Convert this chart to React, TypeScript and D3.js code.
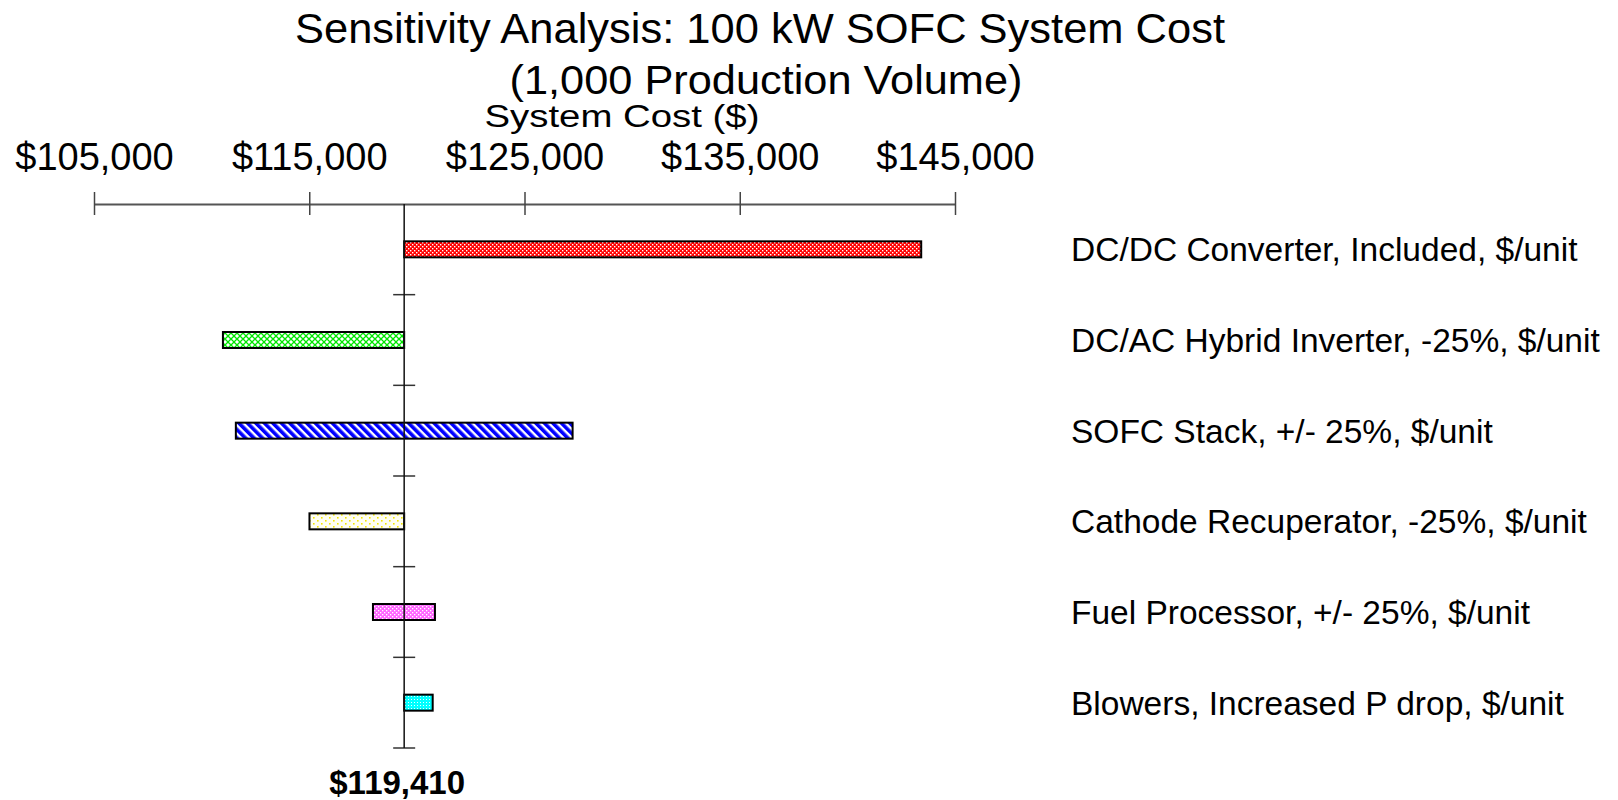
import React, { useRef, useEffect } from 'react';
import * as d3 from 'd3';

// Sensitivity data (system cost, $)
const baseCost = 119410;
const categories = [
  'DC/DC Converter, Included, $/unit',
  'DC/AC Hybrid Inverter, -25%, $/unit',
  'SOFC Stack, +/- 25%, $/unit',
  'Cathode Recuperator, -25%, $/unit',
  'Fuel Processor, +/- 25%, $/unit',
  'Blowers, Increased P drop, $/unit',
];
const lowValues = [119410, 110990, 111590, 115010, 117960, 119410];
const highValues = [143430, 119410, 127235, 119410, 120840, 120735];
const patternIds = ['pRed', 'pGreen', 'pBlue', 'pYellow', 'pMagenta', 'pCyan'];
const tickValues = [105000, 115000, 125000, 135000, 145000];

const FONT = "'Liberation Sans', Arial, Helvetica, sans-serif";

export default function App() {
  const svgRef = useRef<SVGSVGElement>(null);

  useEffect(() => {
    if (!svgRef.current) return;
    const root = d3.select(svgRef.current);
    root.selectAll('*').remove();

    const width = 1618;
    const height = 800;
    root.attr('width', width).attr('height', height);

    // Fill patterns
    const defs = root.append('defs');
    const red = defs.append('pattern').attr('id', 'pRed').attr('patternUnits', 'userSpaceOnUse')
      .attr('width', 4).attr('height', 4);
    red.append('rect').attr('width', 4).attr('height', 4).attr('fill', '#ff0000');
    red.append('rect').attr('x', 0).attr('y', 0).attr('width', 1.4).attr('height', 1.4).attr('fill', '#fff');
    red.append('rect').attr('x', 2).attr('y', 2).attr('width', 1.4).attr('height', 1.4).attr('fill', '#fff');

    const green = defs.append('pattern').attr('id', 'pGreen').attr('patternUnits', 'userSpaceOnUse')
      .attr('width', 6).attr('height', 6);
    green.append('rect').attr('width', 6).attr('height', 6).attr('fill', '#fff');
    green.append('path').attr('d', 'M0,0 L6,6 M6,0 L0,6').attr('stroke', '#00e600').attr('stroke-width', 1.3);

    const blue = defs.append('pattern').attr('id', 'pBlue').attr('patternUnits', 'userSpaceOnUse')
      .attr('width', 6).attr('height', 6).attr('patternTransform', 'rotate(-45)');
    blue.append('rect').attr('width', 6).attr('height', 6).attr('fill', '#fff');
    blue.append('rect').attr('width', 3.6).attr('height', 6).attr('fill', '#0000ff');

    const yellow = defs.append('pattern').attr('id', 'pYellow').attr('patternUnits', 'userSpaceOnUse')
      .attr('width', 8).attr('height', 6);
    yellow.append('rect').attr('width', 8).attr('height', 6).attr('fill', '#fffff2');
    yellow.append('rect').attr('x', 1).attr('y', 1).attr('width', 1.6).attr('height', 1.6).attr('fill', '#f2e600');
    yellow.append('rect').attr('x', 5).attr('y', 4).attr('width', 1.6).attr('height', 1.6).attr('fill', '#f2e600');

    const magenta = defs.append('pattern').attr('id', 'pMagenta').attr('patternUnits', 'userSpaceOnUse')
      .attr('width', 4).attr('height', 4);
    magenta.append('rect').attr('width', 4).attr('height', 4).attr('fill', '#ff66ff');
    magenta.append('rect').attr('x', 0).attr('y', 0).attr('width', 1.3).attr('height', 1.3).attr('fill', '#fff');
    magenta.append('rect').attr('x', 2).attr('y', 2).attr('width', 1.3).attr('height', 1.3).attr('fill', '#fff');

    const cyan = defs.append('pattern').attr('id', 'pCyan').attr('patternUnits', 'userSpaceOnUse')
      .attr('width', 3).attr('height', 3);
    cyan.append('rect').attr('width', 3).attr('height', 3).attr('fill', '#00ffff');
    cyan.append('rect').attr('x', 0).attr('y', 0).attr('width', 1).attr('height', 1).attr('fill', '#e6ffff');

    const x = d3.scaleLinear().domain([105000, 145000]).range([94, 955]);
    const y = d3.scaleBand().domain(categories).range([204, 748]).paddingInner(0).paddingOuter(0);
    const barH = 16;

    // Titles
    root.append('text')
      .attr('x', 760).attr('y', 43)
      .attr('text-anchor', 'middle')
      .attr('textLength', 930).attr('lengthAdjust', 'spacingAndGlyphs')
      .style('font-family', FONT).style('font-size', '42px').style('fill', '#000')
      .text('Sensitivity Analysis: 100 kW SOFC System Cost');
    root.append('text')
      .attr('x', 766).attr('y', 94)
      .attr('text-anchor', 'middle')
      .attr('textLength', 513).attr('lengthAdjust', 'spacingAndGlyphs')
      .style('font-family', FONT).style('font-size', '41px').style('fill', '#000')
      .text('(1,000 Production Volume)');
    root.append('text')
      .attr('x', 622).attr('y', 127)
      .attr('text-anchor', 'middle')
      .attr('textLength', 275).attr('lengthAdjust', 'spacingAndGlyphs')
      .style('font-family', FONT).style('font-size', '31px').style('fill', '#000')
      .text('System Cost ($)');

    // Top value axis
    const axisY = y.range()[0];
    root.append('g')
      .attr('transform', `translate(0,${axisY})`)
      .call(d3.axisTop(x).tickValues(tickValues).tickSizeOuter(0).tickSizeInner(12)
        .tickFormat(d => d3.format('$,.0f')(d as number)))
      .call(g => g.select('.domain').attr('stroke', '#555').attr('stroke-width', 2))
      .call(g => g.selectAll('.tick line').attr('y1', 11).attr('y2', -12)
        .attr('stroke', '#444').attr('stroke-width', 1.5))
      .call(g => g.selectAll('.tick text')
        .attr('y', -34).attr('dy', 0)
        .style('font-family', FONT).style('font-size', '38px').style('fill', '#000'));

    // Base line with category ticks
    const bx = x(baseCost);
    root.selectAll('.cat-tick')
      .data(categories)
      .enter()
      .append('line')
      .attr('class', 'cat-tick')
      .attr('x1', bx - 11).attr('x2', bx + 11)
      .attr('y1', d => (y(d) || 0) + y.step())
      .attr('y2', d => (y(d) || 0) + y.step())
      .attr('stroke', '#333').attr('stroke-width', 1.5);

    // Bars
    root.selectAll('.bar')
      .data(categories)
      .enter()
      .append('rect')
      .attr('class', 'bar')
      .attr('x', (_d, i) => x(lowValues[i]))
      .attr('width', (_d, i) => x(highValues[i]) - x(lowValues[i]))
      .attr('y', d => (y(d) || 0) + y.bandwidth() / 2 - barH / 2)
      .attr('height', barH)
      .attr('fill', (_d, i) => `url(#${patternIds[i]})`)
      .attr('stroke', '#000')
      .attr('stroke-width', 2);

    // Base line drawn on top of bars
    root.append('line')
      .attr('x1', bx).attr('x2', bx)
      .attr('y1', axisY).attr('y2', y.range()[1])
      .attr('stroke', '#111').attr('stroke-width', 1.5);

    // Category labels
    root.selectAll('.cat-label')
      .data(categories)
      .enter()
      .append('text')
      .attr('class', 'cat-label')
      .attr('x', 1071)
      .attr('y', d => (y(d) || 0) + y.bandwidth() / 2 + 12)
      .style('font-family', FONT).style('font-size', '33.5px').style('fill', '#000')
      .text(d => d);

    // Base value label
    root.append('text')
      .attr('x', bx - 7).attr('y', 794)
      .attr('text-anchor', 'middle')
      .style('font-family', FONT).style('font-size', '33px').style('font-weight', 'bold').style('fill', '#000')
      .text(d3.format('$,')(baseCost));
  }, []);

  return (
    <div style={{ position: 'absolute', left: 0, top: 0, width: 1618, height: 800, background: '#fff' }}>
      <svg ref={svgRef} style={{ display: 'block' }} />
    </div>
  );
}
